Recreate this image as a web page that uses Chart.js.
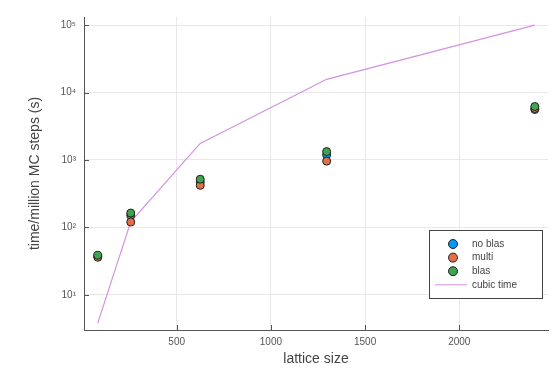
<!DOCTYPE html>
<html>
<head>
<meta charset="utf-8">
<script src="https://cdn.jsdelivr.net/npm/chart.js@4"></script>
<style>
  html, body { margin: 0; padding: 0; background: #fff; }
  #wrap { width: 556px; height: 370px; }
</style>
</head>
<body>
<div id="wrap"><canvas id="timing"></canvas></div>
<script>
// values
const latticeSizes = [81, 256, 625, 1296, 2401];
const noBlas = [37, 150, 470, 1190, 5600];
const multi = [36, 120, 420, 960, 5800];
const blas = [38.5, 163, 518, 1330, 6200];
const cubicTime = [3.8, 121, 1760, 15700, 100000];

const xTicks = [500, 1000, 1500, 2000];
const yTicks = [10, 100, 1000, 10000, 100000];
const sup = {1: '¹', 2: '²', 3: '³', 4: '⁴', 5: '⁵'};

function pts(ys) {
    return latticeSizes.map((x, i) => ({x: x, y: ys[i]}));
}

const tickFont = {family: 'Liberation Sans, Arial, sans-serif', size: 10};
const titleFont = {family: 'Liberation Sans, Arial, sans-serif', size: 14};

// small inward ticks like the original
const innerTicks = {
    id: 'innerTicks',
    afterDraw(chart) {
        const c = chart.ctx, a = chart.chartArea;
        const xs = chart.scales.x, ys = chart.scales.y;
        c.save();
        c.strokeStyle = '#555';
        c.lineWidth = 1;
        c.beginPath();
        xTicks.forEach(v => {
            const px = Math.round(xs.getPixelForValue(v)) + 0.5;
            c.moveTo(px, a.bottom);
            c.lineTo(px, a.bottom - 5);
        });
        yTicks.forEach(v => {
            const py = Math.round(ys.getPixelForValue(v)) + 0.5;
            c.moveTo(a.left, py);
            c.lineTo(a.left + 5, py);
        });
        c.stroke();
        c.restore();
    }
};

// legend box in the lower right corner of the plot
const boxLegend = {
    id: 'boxLegend',
    afterDraw(chart) {
        const c = chart.ctx, a = chart.chartArea;
        const w = 113, h = 68;
        const left = a.right - 6 - w, top = a.bottom - 32 - h;
        c.save();
        c.fillStyle = '#fff';
        c.fillRect(left, top, w, h);
        c.strokeStyle = '#444';
        c.lineWidth = 1;
        c.strokeRect(Math.round(left) + 0.5, Math.round(top) + 0.5, w, h);
        c.font = '10px Liberation Sans, Arial, sans-serif';
        c.textBaseline = 'middle';
        const order = ['no blas', 'multi', 'blas', 'cubic time'];
        order.forEach((name, i) => {
            const ds = chart.data.datasets.find(d => d.label === name);
            const y = top + 14 + i * 13.6;
            if (ds.type === 'line') {
                c.strokeStyle = ds.borderColor;
                c.lineWidth = 1;
                c.beginPath();
                c.moveTo(left + 6, y);
                c.lineTo(left + 38, y);
                c.stroke();
            } else {
                c.beginPath();
                c.arc(left + 24, y, 4.5, 0, Math.PI * 2);
                c.fillStyle = ds.backgroundColor;
                c.fill();
                c.strokeStyle = '#222';
                c.stroke();
            }
            c.fillStyle = '#444';
            c.fillText(ds.label, left + 43, y);
        });
        c.restore();
    }
};

const ctx = document.getElementById('timing');
const timingChart = new Chart(ctx, {
    data: {
        datasets: [
            {type: 'scatter', label: 'no blas', data: pts(noBlas), order: 3,
             backgroundColor: '#009AFA', borderColor: '#222', borderWidth: 1, pointRadius: 4},
            {type: 'scatter', label: 'multi', data: pts(multi), order: 2,
             backgroundColor: '#E36F47', borderColor: '#222', borderWidth: 1, pointRadius: 4},
            {type: 'scatter', label: 'blas', data: pts(blas), order: 1,
             backgroundColor: '#3EA44E', borderColor: '#222', borderWidth: 1, pointRadius: 4},
            {type: 'line', label: 'cubic time', data: pts(cubicTime), order: 4,
             borderColor: '#D491E2', borderWidth: 1.2, pointRadius: 0, fill: false, tension: 0}
        ]
    },
    options: {
        responsive: true,
        maintainAspectRatio: false,
        animation: false,
        layout: {padding: {top: 17, right: 8, left: 0, bottom: 0}},
        plugins: {legend: {display: false}, tooltip: {enabled: false}},
        scales: {
            x: {
                type: 'linear',
                min: 8,
                max: 2471,
                afterBuildTicks: s => { s.ticks = xTicks.map(v => ({value: v})); },
                afterFit: s => { s.height = 40; },
                grid: {color: '#e8e8e8', drawTicks: false},
                border: {color: '#555', width: 1},
                ticks: {color: '#555', font: tickFont, padding: 6, maxRotation: 0,
                        callback: v => String(v)},
                title: {display: true, text: 'lattice size', color: '#444', font: titleFont,
                        padding: {top: 0, bottom: 2}}
            },
            y: {
                type: 'logarithmic',
                min: 3.0,
                max: 132000,
                afterBuildTicks: s => { s.ticks = yTicks.map(v => ({value: v})); },
                afterFit: s => { s.width = 84; },
                grid: {color: '#e8e8e8', drawTicks: false},
                border: {color: '#555', width: 1},
                ticks: {
                    color: '#555', font: tickFont, padding: 8,
                    callback: v => '10' + sup[Math.round(Math.log10(v))]
                },
                title: {display: true, text: 'time/million MC steps (s)', color: '#444', font: titleFont,
                        padding: {top: 27, bottom: 0}}
            }
        }
    },
    plugins: [innerTicks, boxLegend]
});
</script>
</body>
</html>
